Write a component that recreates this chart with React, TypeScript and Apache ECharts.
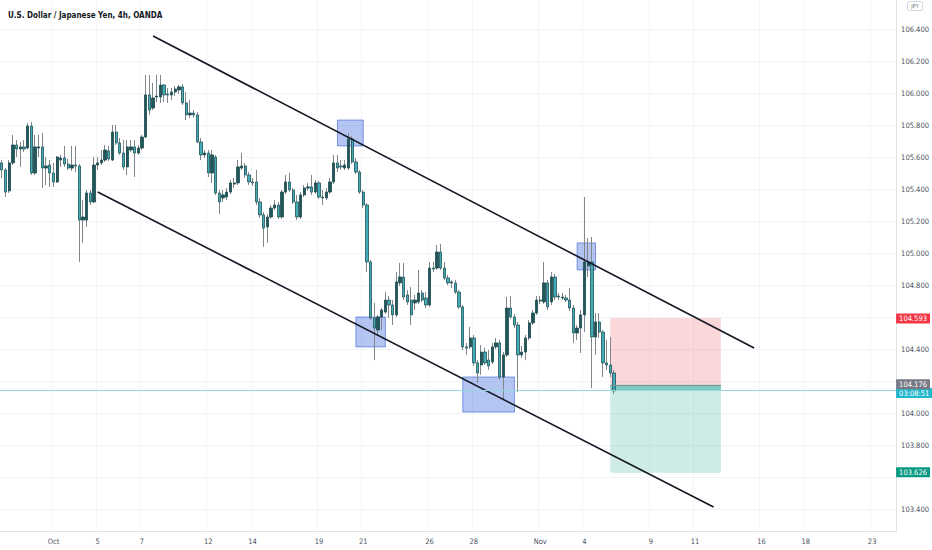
import React, { useEffect, useRef } from "react";
import * as echarts from "echarts";

const chartTitle = "U.S. Dollar / Japanese Yen, 4h, OANDA";
const currencyBadge = "JPY";

const tradingDays = [
  "Sep 28", "Sep 29", "Sep 30", "Oct 1", "Oct 2",
  "Oct 5", "Oct 6", "Oct 7", "Oct 8", "Oct 9",
  "Oct 12", "Oct 13", "Oct 14", "Oct 15", "Oct 16",
  "Oct 19", "Oct 20", "Oct 21", "Oct 22", "Oct 23",
  "Oct 26", "Oct 27", "Oct 28", "Oct 29", "Oct 30",
  "Nov 2", "Nov 3", "Nov 4", "Nov 5", "Nov 6",
  "Nov 9", "Nov 10", "Nov 11", "Nov 12", "Nov 13",
  "Nov 16", "Nov 17", "Nov 18", "Nov 19", "Nov 20",
  "Nov 23", "Nov 24",
];
const sessionHours = ["00:00", "04:00", "08:00", "12:00", "16:00", "20:00"];
const firstDaySkippedBars = 4;
const totalBars = 243;
const dateTickLabels: Record<string, string> = {
  "Oct 1": "Oct", "Oct 5": "5", "Oct 7": "7", "Oct 12": "12", "Oct 14": "14",
  "Oct 19": "19", "Oct 21": "21", "Oct 26": "26", "Oct 28": "28",
  "Nov 2": "Nov", "Nov 4": "4", "Nov 9": "9", "Nov 11": "11",
  "Nov 16": "16", "Nov 18": "18", "Nov 23": "23",
};

const opens = [
  105.563, 105.519, 105.388, 105.563, 105.675, 105.650, 105.663, 105.656, 105.794, 105.500,
  105.656, 105.663, 105.531, 105.550, 105.500, 105.444, 105.581, 105.594, 105.556, 105.531,
  105.550, 105.544, 105.206, 105.206, 105.375, 105.319, 105.550, 105.563, 105.581, 105.638,
  105.581, 105.756, 105.688, 105.625, 105.538, 105.644, 105.663, 105.625, 105.656, 105.725,
  105.988, 105.906, 105.975, 105.975, 106.050, 105.994, 105.988, 106.006, 106.019, 106.038,
  105.938, 105.863, 105.875, 105.863, 105.694, 105.613, 105.625, 105.500, 105.600, 105.375,
  105.344, 105.350, 105.381, 105.431, 105.438, 105.531, 105.544, 105.488, 105.444, 105.444,
  105.319, 105.238, 105.163, 105.225, 105.281, 105.300, 105.225, 105.381, 105.444, 105.394,
  105.319, 105.225, 105.363, 105.406, 105.413, 105.381, 105.438, 105.350, 105.344, 105.381,
  105.444, 105.563, 105.544, 105.531, 105.531, 105.713, 105.569, 105.506, 105.381, 105.300,
  104.944, 104.594, 104.519, 104.600, 104.631, 104.706, 104.675, 104.613, 104.813, 104.850,
  104.738, 104.706, 104.688, 104.694, 104.750, 104.719, 104.675, 104.906, 104.906, 105.006,
  104.906, 104.844, 104.813, 104.813, 104.756, 104.663, 104.413, 104.413, 104.469, 104.313,
  104.300, 104.381, 104.331, 104.319, 104.413, 104.438, 104.225, 104.363, 104.656, 104.600,
  104.550, 104.363, 104.381, 104.469, 104.563, 104.625, 104.700, 104.694, 104.813, 104.694,
  104.850, 104.731, 104.719, 104.719, 104.706, 104.656, 104.500, 104.531, 104.613, 104.919,
  104.944, 104.475, 104.569, 104.506, 104.313, 104.300, 104.250,
];
const closes = [
  105.519, 105.381, 105.563, 105.675, 105.650, 105.663, 105.650, 105.794, 105.500, 105.663,
  105.663, 105.531, 105.544, 105.500, 105.444, 105.600, 105.594, 105.556, 105.531, 105.550,
  105.544, 105.206, 105.225, 105.375, 105.319, 105.550, 105.563, 105.581, 105.644, 105.588,
  105.756, 105.688, 105.625, 105.538, 105.663, 105.663, 105.625, 105.656, 105.725, 105.988,
  105.894, 105.969, 105.981, 106.050, 105.988, 105.988, 106.006, 106.025, 106.038, 105.938,
  105.863, 105.875, 105.863, 105.694, 105.613, 105.625, 105.500, 105.613, 105.375, 105.319,
  105.363, 105.381, 105.438, 105.438, 105.538, 105.544, 105.488, 105.444, 105.438, 105.319,
  105.238, 105.156, 105.225, 105.281, 105.300, 105.225, 105.381, 105.444, 105.394, 105.319,
  105.225, 105.363, 105.406, 105.413, 105.381, 105.438, 105.350, 105.344, 105.381, 105.444,
  105.563, 105.531, 105.538, 105.550, 105.713, 105.569, 105.506, 105.381, 105.300, 104.944,
  104.594, 104.531, 104.600, 104.644, 104.706, 104.675, 104.613, 104.819, 104.850, 104.725,
  104.694, 104.613, 104.706, 104.750, 104.706, 104.675, 104.906, 104.900, 105.006, 104.906,
  104.844, 104.813, 104.819, 104.756, 104.663, 104.413, 104.406, 104.469, 104.313, 104.250,
  104.381, 104.313, 104.294, 104.413, 104.438, 104.225, 104.363, 104.656, 104.600, 104.550,
  104.363, 104.381, 104.469, 104.563, 104.625, 104.706, 104.706, 104.813, 104.663, 104.850,
  104.725, 104.725, 104.725, 104.706, 104.656, 104.500, 104.531, 104.613, 104.944, 104.944,
  104.475, 104.569, 104.506, 104.313, 104.300, 104.250, 104.138,
];
const lows = [
  105.469, 105.350, 105.375, 105.550, 105.600, 105.538, 105.631, 105.650, 105.488, 105.488,
  105.600, 105.406, 105.425, 105.413, 105.413, 105.438, 105.538, 105.538, 105.519, 105.513,
  105.506, 104.944, 105.063, 105.163, 105.300, 105.313, 105.519, 105.550, 105.569, 105.575,
  105.575, 105.675, 105.613, 105.519, 105.488, 105.631, 105.475, 105.613, 105.644, 105.719,
  105.863, 105.894, 105.944, 105.938, 105.944, 105.938, 105.956, 105.981, 105.994, 105.925,
  105.831, 105.844, 105.844, 105.688, 105.581, 105.594, 105.475, 105.438, 105.363, 105.244,
  105.319, 105.331, 105.369, 105.406, 105.425, 105.519, 105.469, 105.425, 105.419, 105.300,
  105.219, 105.038, 105.063, 105.213, 105.269, 105.213, 105.213, 105.369, 105.381, 105.306,
  105.206, 105.213, 105.350, 105.388, 105.363, 105.369, 105.338, 105.300, 105.331, 105.369,
  105.431, 105.506, 105.519, 105.519, 105.519, 105.556, 105.494, 105.369, 105.281, 104.881,
  104.581, 104.331, 104.481, 104.519, 104.619, 104.594, 104.550, 104.600, 104.794, 104.706,
  104.675, 104.550, 104.644, 104.681, 104.694, 104.656, 104.663, 104.881, 104.894, 104.894,
  104.831, 104.800, 104.781, 104.744, 104.650, 104.394, 104.363, 104.400, 104.294, 104.188,
  104.238, 104.300, 104.269, 104.306, 104.400, 104.206, 104.081, 104.350, 104.588, 104.531,
  104.131, 104.344, 104.331, 104.456, 104.550, 104.613, 104.681, 104.681, 104.644, 104.675,
  104.706, 104.706, 104.706, 104.694, 104.638, 104.438, 104.456, 104.375, 104.506, 104.850,
  104.156, 104.363, 104.469, 104.225, 104.269, 104.225, 104.119,
];
const highs = [
  105.581, 105.531, 105.581, 105.738, 105.706, 105.694, 105.706, 105.813, 105.819, 105.738,
  105.738, 105.750, 105.600, 105.581, 105.563, 105.606, 105.613, 105.669, 105.588, 105.669,
  105.669, 105.556, 105.331, 105.394, 105.394, 105.600, 105.600, 105.644, 105.675, 105.669,
  105.800, 105.800, 105.719, 105.706, 105.706, 105.706, 105.706, 105.675, 105.738, 106.113,
  106.113, 106.063, 106.113, 106.113, 106.056, 106.031, 106.031, 106.044, 106.050, 106.056,
  106.006, 105.956, 105.894, 105.881, 105.719, 105.644, 105.644, 105.644, 105.613, 105.394,
  105.394, 105.406, 105.456, 105.469, 105.581, 105.625, 105.563, 105.506, 105.469, 105.519,
  105.344, 105.256, 105.244, 105.300, 105.331, 105.319, 105.394, 105.488, 105.500, 105.406,
  105.363, 105.381, 105.425, 105.438, 105.488, 105.456, 105.450, 105.394, 105.406, 105.469,
  105.613, 105.613, 105.581, 105.581, 105.750, 105.731, 105.594, 105.519, 105.394, 105.313,
  104.956, 104.688, 104.613, 104.656, 104.756, 104.731, 104.706, 104.881, 104.938, 104.938,
  104.769, 104.788, 104.738, 104.894, 104.769, 104.756, 104.944, 104.944, 105.050, 105.056,
  104.944, 104.863, 104.831, 104.831, 104.769, 104.675, 104.438, 104.538, 104.488, 104.331,
  104.425, 104.406, 104.394, 104.438, 104.469, 104.456, 104.381, 104.725, 104.731, 104.619,
  104.569, 104.419, 104.488, 104.581, 104.644, 104.731, 104.731, 104.944, 104.831, 104.881,
  104.869, 104.750, 104.750, 104.738, 104.781, 104.675, 104.550, 104.644, 105.350, 105.094,
  105.100, 104.625, 104.625, 104.519, 104.456, 104.475, 104.269,
];

const priceTicks = [
  103.4, 103.6, 103.8, 104.0, 104.2, 104.4, 104.6, 104.8,
  105.0, 105.2, 105.4, 105.6, 105.8, 106.0, 106.2, 106.4,
];
// levels whose scale labels sit under the order tags on the right
const coveredPriceLabels = [103.6, 104.2, 104.6];
const yMin = 103.2625;
const yMax = 106.58125;

const stopLoss = 104.593;
const entryPrice = 104.176;
const takeProfit = 103.626;
const countdown = "03:08:51";
const positionBars = [165, 195];

const channelUpper = [[41, 106.356], [204, 104.406]];
const channelLower = [[26, 105.381], [193, 103.4125]];

const touchBoxes = [
  { bars: [91, 98], prices: [105.669, 105.831] },
  { bars: [96, 104], prices: [104.413, 104.6] },
  { bars: [125, 139], prices: [104.006, 104.225] },
  { bars: [156, 161], prices: [104.894, 105.063] },
];

const FONT = '"Liberation Sans Narrow", "DejaVu Sans Condensed", "Liberation Sans", Arial, sans-serif';

function buildCategories(): string[] {
  const out: string[] = [];
  tradingDays.forEach((day, d) => {
    sessionHours.forEach((h, j) => {
      if (d === 0 && j < firstDaySkippedBars) return;
      out.push(`${day} ${h}`);
    });
  });
  return out.slice(0, totalBars);
}

function splitCat(value: string) {
  const k = value.lastIndexOf(" ");
  return { day: value.slice(0, k), hour: value.slice(k + 1) };
}

function isTick(_i: number, value: string): boolean {
  const { day, hour } = splitCat(value);
  return hour === sessionHours[0] && dateTickLabels[day] !== undefined;
}

function tagLabel(text: string, bg: string, extra: any = {}) {
  return {
    show: true,
    position: "end",
    formatter: text,
    color: "#ffffff",
    backgroundColor: bg,
    padding: [1, 3, 1, 3],
    fontSize: 7.5,
    fontFamily: FONT,
    distance: 0,
    ...extra,
  };
}

function buildOption() {
  const categories = buildCategories();
  const n = closes.length;
  const wickData = [];
  const bodyData = [];
  for (let i = 0; i < n; i++) {
    wickData.push([opens[i], closes[i], lows[i], highs[i]]);
    bodyData.push([
      opens[i],
      closes[i],
      Math.min(opens[i], closes[i]),
      Math.max(opens[i], closes[i]),
    ]);
  }
  const lastClose = closes[n - 1];
  const hidden = { color: "rgba(0,0,0,0)", width: 0 };

  const markLines: any[] = [
    [
      { coord: channelUpper[0], lineStyle: { color: "#131722", width: 1.6, type: "solid" } },
      { coord: channelUpper[1] },
    ],
    [
      { coord: channelLower[0], lineStyle: { color: "#131722", width: 1.6, type: "solid" } },
      { coord: channelLower[1] },
    ],
    [
      { coord: [positionBars[0], entryPrice], lineStyle: { color: "#8a8d96", width: 1, type: "solid" } },
      { coord: [positionBars[1], entryPrice] },
    ],
    {
      yAxis: lastClose,
      lineStyle: { color: "#93d8e2", width: 1, type: "solid" },
      label: tagLabel(countdown, "#22b6cc", { offset: [0, 2.5] }),
    },
    { yAxis: stopLoss, lineStyle: hidden, label: tagLabel(stopLoss.toFixed(3), "#f23645") },
    { yAxis: entryPrice, lineStyle: hidden, label: tagLabel(entryPrice.toFixed(3), "#787b86") },
    { yAxis: takeProfit, lineStyle: hidden, label: tagLabel(takeProfit.toFixed(3), "#089981") },
  ];

  const markAreas: any[] = [
    [
      { xAxis: positionBars[0], yAxis: stopLoss, itemStyle: { color: "rgba(242,54,69,0.2)" } },
      { xAxis: positionBars[1], yAxis: entryPrice },
    ],
    [
      { xAxis: positionBars[0], yAxis: entryPrice, itemStyle: { color: "rgba(8,153,129,0.2)" } },
      { xAxis: positionBars[1], yAxis: takeProfit },
    ],
    [
      { xAxis: positionBars[0], yAxis: entryPrice, itemStyle: { color: "rgba(8,153,129,0.4)" } },
      { xAxis: positionBars[1], yAxis: lastClose },
    ],
    ...touchBoxes.map((b) => [
      {
        xAxis: b.bars[0],
        yAxis: b.prices[1],
        itemStyle: {
          color: "rgba(50,95,220,0.36)",
          borderColor: "rgba(41,82,210,0.55)",
          borderWidth: 1,
        },
      },
      { xAxis: b.bars[1], yAxis: b.prices[0] },
    ]),
  ];

  const axisText = { color: "#4c525e", fontSize: 7.5, fontFamily: FONT };
  const visiblePriceLabels = priceTicks.filter(
    (p) => !coveredPriceLabels.some((c) => Math.abs(c - p) < 1e-9)
  );

  return {
    animation: false,
    backgroundColor: "#ffffff",
    textStyle: { fontFamily: FONT },
    title: {
      text: chartTitle,
      left: 3,
      top: 6,
      textStyle: { fontSize: 8, fontWeight: 600, color: "#131722", fontFamily: FONT },
    },
    grid: { left: 0, right: 33, top: 0, bottom: 19, containLabel: false },
    xAxis: {
      type: "category",
      data: categories,
      boundaryGap: true,
      axisLine: { show: true, lineStyle: { color: "#e0e3eb" } },
      axisTick: { show: false },
      axisLabel: {
        ...axisText,
        interval: isTick,
        margin: 6,
        formatter: (v: string) => dateTickLabels[splitCat(v).day] ?? "",
      },
      splitLine: { show: true, interval: isTick, lineStyle: { color: "#f3f5f9", width: 1 } },
    },
    yAxis: {
      type: "value",
      position: "right",
      min: yMin,
      max: yMax,
      axisLine: { show: true, lineStyle: { color: "#e0e3eb" } },
      axisTick: { show: false, customValues: priceTicks },
      axisLabel: {
        ...axisText,
        customValues: visiblePriceLabels,
        margin: 5,
        formatter: (v: number) => v.toFixed(3),
      },
      splitLine: { show: true, lineStyle: { color: "#f0f3fa", width: 1 } },
    },
    graphic: [
      {
        type: "group",
        right: 9,
        top: 1,
        children: [
          {
            type: "rect",
            shape: { x: 0, y: 0, width: 15, height: 9, r: 2 },
            style: { fill: "#ffffff", stroke: "#d1d4dc", lineWidth: 1 },
          },
          {
            type: "text",
            x: 7.5,
            y: 4.5,
            style: {
              text: currencyBadge,
              fontSize: 5.5,
              fontFamily: FONT,
              fill: "#6a6d78",
              align: "center",
              verticalAlign: "middle",
            },
          },
        ],
      },
    ],
    series: [
      {
        type: "candlestick",
        name: "wicks",
        data: wickData,
        barWidth: 1,
        silent: true,
        itemStyle: {
          color: "#80878a",
          color0: "#80878a",
          borderColor: "#80878a",
          borderColor0: "#80878a",
          borderWidth: 1,
        },
      },
      {
        type: "candlestick",
        name: "USDJPY",
        data: bodyData,
        barWidth: 2.8,
        silent: true,
        itemStyle: {
          color: "#21575b",
          color0: "#43abb5",
          borderColor: "#1c4a4e",
          borderColor0: "#1f5357",
          borderWidth: 0.8,
        },
        markArea: { silent: true, label: { show: false }, data: markAreas },
        markLine: {
          silent: true,
          symbol: ["none", "none"],
          label: { show: false },
          data: markLines,
        },
      },
    ],
  };
}

export default function App() {
  const ref = useRef<HTMLDivElement>(null);
  useEffect(() => {
    if (!ref.current) return;
    const chart = echarts.init(ref.current, undefined, { renderer: "svg" });
    chart.setOption(buildOption() as any);
    return () => chart.dispose();
  }, []);
  return (
    <div
      ref={ref}
      style={{ position: "fixed", left: 0, top: 0, width: 932, height: 550, background: "#ffffff" }}
    />
  );
}
